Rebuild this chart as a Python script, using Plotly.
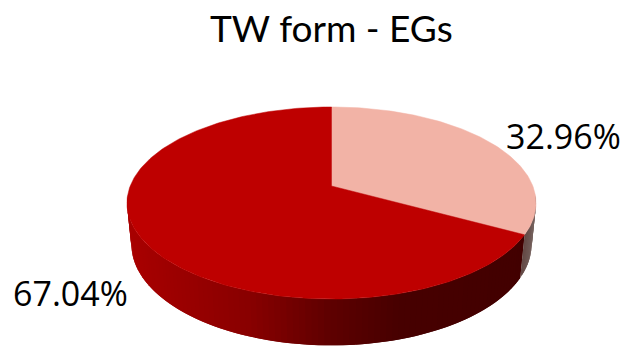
import math
import plotly.graph_objects as go

# Data
categories = ["Other", "TW form"]
percentages = [32.96, 67.04]
title_text = "TW form - EGs"

# Styles
top_colors = ["#F2B3A6", "#BE0000"]
wall_stops = [
    [(520, (0x5c, 0x3e, 0x3a)), (536, (0x74, 0x60, 0x5c))],
    [(130, (0xa8, 0, 0)), (250, (0x88, 0, 0)), (330, (0x5e, 0, 0)), (400, (0x47, 0, 0)), (530, (0x42, 0, 0))],
]

# Perspective projection of a unit-radius pie (screen pixel space)
CX, CY, A, B, C, K, M = 331.5, 186.0, 201.3, 60.1, 45.5, 0.177, 0.0213


def project(phi, r=1.0, z=0.0):
    X, Y = r * math.cos(phi), r * math.sin(phi)
    den = 1 + K * Y + M * z
    return CX + A * X / den, (CY - B * Y + C * z) / den


def grad(stops, u):
    if u <= stops[0][0]:
        return stops[0][1]
    for (u0, c0), (u1, c1) in zip(stops, stops[1:]):
        if u <= u1:
            t = (u - u0) / (u1 - u0)
            return tuple(c0[i] + t * (c1[i] - c0[i]) for i in range(3))
    return stops[-1][1]


fig = go.Figure()
total = sum(percentages)
start = math.pi / 2
bounds = []
a = start
for v in percentages:
    b = a - 2 * math.pi * v / total
    bounds.append((a, b))
    a = b

# Walls: only the near side of the rim is visible.
# Strips are painted left to right, each one overlapping the next, so no seams show.
ranges = [
    (bounds[0][1], -0.10),
    (-math.pi + 0.10, bounds[0][1]),
]
for idx in (1, 0):
    lo, hi = ranges[idx]
    n = max(4, int((hi - lo) / math.radians(1.5)))
    step = (hi - lo) / n
    for i in range(n):
        p0 = lo + step * i
        p1 = min(hi, p0 + step * 2)
        pm = p0 + step / 2
        pts = [project(p0), project(p1), project(p1, z=1), project(p0, z=1)]
        r, g, bl = grad(wall_stops[idx], project(pm)[0])
        col = f"rgb({r:.0f},{g:.0f},{bl:.0f})"
        fig.add_trace(go.Scatter(
            x=[p[0] for p in pts] + [pts[0][0]],
            y=[p[1] for p in pts] + [pts[0][1]],
            mode="lines", fill="toself", fillcolor=col,
            line=dict(width=0), hoverinfo="skip", showlegend=False))

# Top sectors
for idx, (a0, a1) in enumerate(bounds):
    n = max(8, int(abs(a0 - a1) / math.radians(1)))
    pts = [project(0, r=0)] + [project(a0 + (a1 - a0) * i / n) for i in range(n + 1)]
    pts.append(pts[0])
    fig.add_trace(go.Scatter(
        x=[p[0] for p in pts], y=[p[1] for p in pts],
        mode="lines", fill="toself", fillcolor=top_colors[idx],
        line=dict(color=top_colors[idx], width=0.5),
        name=categories[idx], hoverinfo="name", showlegend=False))

label_pos = [(563, 136), (70, 293)]
annotations = [
    dict(x=lx, y=ly, xref="x", yref="y", text=f"{v:.2f}%", showarrow=False,
         font=dict(family="Open Sans", size=34, color="#000000"),
         xanchor="center", yanchor="middle")
    for v, (lx, ly) in zip(percentages, label_pos)
]
annotations.append(dict(x=331.5, y=27, xref="x", yref="y", text=title_text, showarrow=False,
                        font=dict(family="Lato", size=37, color="#000000"),
                        xanchor="center", yanchor="middle"))

fig.update_layout(
    width=621, height=347, margin=dict(l=0, r=0, t=0, b=0),
    paper_bgcolor="white", plot_bgcolor="white", showlegend=False,
    xaxis=dict(range=[0, 621], visible=False, fixedrange=True),
    yaxis=dict(range=[347, 0], visible=False, fixedrange=True),
    annotations=annotations,
)
fig.write_html("out.html", config={"displayModeBar": False},
               post_script="document.body.style.margin='0';document.body.style.overflow='hidden';")
